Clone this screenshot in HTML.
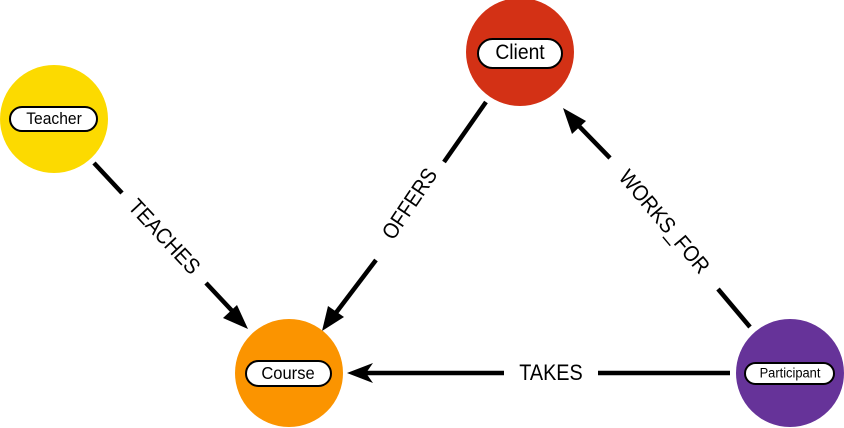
<!DOCTYPE html>
<html><head><meta charset="utf-8"><style>
html,body{margin:0;padding:0;background:#fff;}
svg{display:block;font-family:"Liberation Sans",Arial,sans-serif;}
</style></head><body>
<svg width="844" height="428" viewBox="0 0 844 428" xmlns="http://www.w3.org/2000/svg">
<g stroke="#000" stroke-width="4.5" fill="none">
<line x1="94" y1="163" x2="122" y2="193"/>
<line x1="206" y1="283" x2="236" y2="315"/>
<line x1="486" y1="102" x2="444" y2="162"/>
<line x1="376" y1="260" x2="332" y2="318"/>
<line x1="750" y1="327" x2="718" y2="289"/>
<line x1="610" y1="158" x2="575" y2="122"/>
<line x1="730" y1="373" x2="598" y2="373"/>
<line x1="504" y1="373" x2="366" y2="373"/>
</g>
<g fill="#000">
<polygon points="248,329 223,318 237,305"/>
<polygon points="322,331 328,306 344,317"/>
<polygon points="563,108 586,121 572,134"/>
<polygon points="347,373 373,363 366,373 373,383"/>
</g>
<g font-size="22" fill="#000" text-anchor="middle" dominant-baseline="central">
<text transform="translate(164,237) rotate(47) scale(0.9,1)">TEACHES</text>
<text transform="translate(410,204) rotate(-56) scale(0.9,1)">OFFERS</text>
<text transform="translate(664,222) rotate(50) scale(0.9,1)">WORKS_FOR</text>
<text transform="translate(551,373) scale(0.9,1)">TAKES</text>
</g>
<circle cx="54" cy="119" r="54" fill="#fcda00"/>
<circle cx="520" cy="52" r="54" fill="#d33115"/>
<circle cx="289" cy="373" r="54" fill="#fb9400"/>
<circle cx="790" cy="373" r="54" fill="#663399"/>
<g stroke="#000" stroke-width="2" fill="#fff">
<rect x="10" y="107" width="87" height="24" rx="12"/>
<rect x="478" y="39" width="84" height="29" rx="14.5"/>
<rect x="246" y="361" width="85" height="25" rx="12.5"/>
<rect x="745" y="363" width="89" height="21" rx="10.5"/>
</g>
<g fill="#000" text-anchor="middle" dominant-baseline="central">
<text transform="translate(54,119) scale(0.92,1)" font-size="17">Teacher</text>
<text transform="translate(520,53) scale(0.92,1)" font-size="21">Client</text>
<text transform="translate(288,373) scale(0.92,1)" font-size="18">Course</text>
<text transform="translate(790,373) scale(0.92,1)" font-size="14">Participant</text>
</g>
</svg>
</body></html>
